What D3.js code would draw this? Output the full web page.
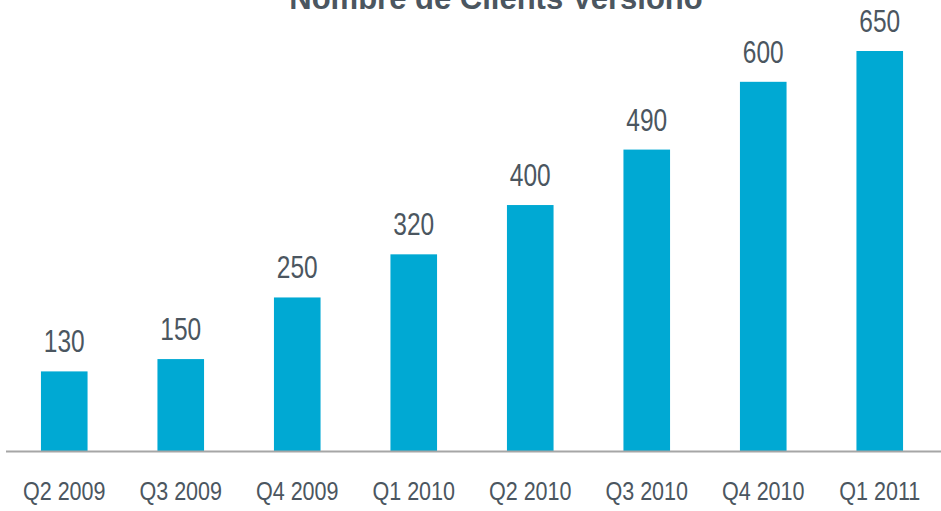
<!DOCTYPE html>
<html>
<head>
<meta charset="utf-8">
<script src="https://cdn.jsdelivr.net/npm/d3@7"></script>
<style>
  body { margin: 0; background: #fff; }
</style>
</head>
<body>
<div id="chart"></div>
<script>
const quarters = ['Q2 2009', 'Q3 2009', 'Q4 2009', 'Q1 2010', 'Q2 2010', 'Q3 2010', 'Q4 2010', 'Q1 2011'];
const clients = [130, 150, 250, 320, 400, 490, 600, 650];
const title = 'Nombre de Clients Versiono';

const width = 941;
const height = 511;
const baseY = 451.5;
const textColor = '#4b5660';

const svg = d3.select('#chart')
  .append('svg')
  .attr('width', width)
  .attr('height', height);

const x = d3.scaleBand()
  .domain(quarters)
  .range([6, 938])
  .paddingInner(0.6)
  .paddingOuter(0.3);

// 650 -> ~400px tall
const y = d3.scaleLinear()
  .domain([0, 650])
  .range([baseY, 51]);

const data = quarters.map((q, i) => ({ q, v: clients[i] }));

// title (cut off at top like the original)
svg.append('text')
  .attr('x', 496)
  .attr('y', 9)
  .attr('text-anchor', 'middle')
  .style('font-family', '"Liberation Sans", Arial, sans-serif')
  .style('font-weight', 'bold')
  .style('font-size', '31px')
  .attr('fill', textColor)
  .text(title);

// bars
svg.selectAll('rect.bar')
  .data(data)
  .enter()
  .append('rect')
  .attr('class', 'bar')
  .attr('x', d => x(d.q))
  .attr('y', d => y(d.v))
  .attr('width', x.bandwidth())
  .attr('height', d => baseY - y(d.v))
  .attr('fill', '#00a9d3');

// value labels - no narrow font installed, so squeeze horizontally
svg.selectAll('text.val')
  .data(data)
  .enter()
  .append('text')
  .attr('class', 'val')
  .attr('transform', d => `translate(${x(d.q) + x.bandwidth() / 2},${y(d.v) - 19}) scale(0.79,1)`)
  .attr('text-anchor', 'middle')
  .style('font-family', '"Liberation Sans", Arial, sans-serif')
  .style('font-size', '31px')
  .attr('fill', textColor)
  .text(d => d.v);

// x axis
const xAxis = svg.append('g')
  .attr('transform', `translate(0,${baseY})`)
  .call(d3.axisBottom(x).tickSize(0).tickPadding(0));

xAxis.select('.domain')
  .attr('d', `M6,0H${width}`)
  .attr('stroke', '#a6a6a6')
  .attr('stroke-width', 2);

xAxis.selectAll('text')
  .attr('dy', null)
  .attr('y', null)
  .attr('transform', 'translate(0,48.5) scale(0.845,1)')
  .style('font-family', '"Liberation Sans", Arial, sans-serif')
  .style('font-size', '25.5px')
  .attr('fill', textColor);
</script>
</body>
</html>
